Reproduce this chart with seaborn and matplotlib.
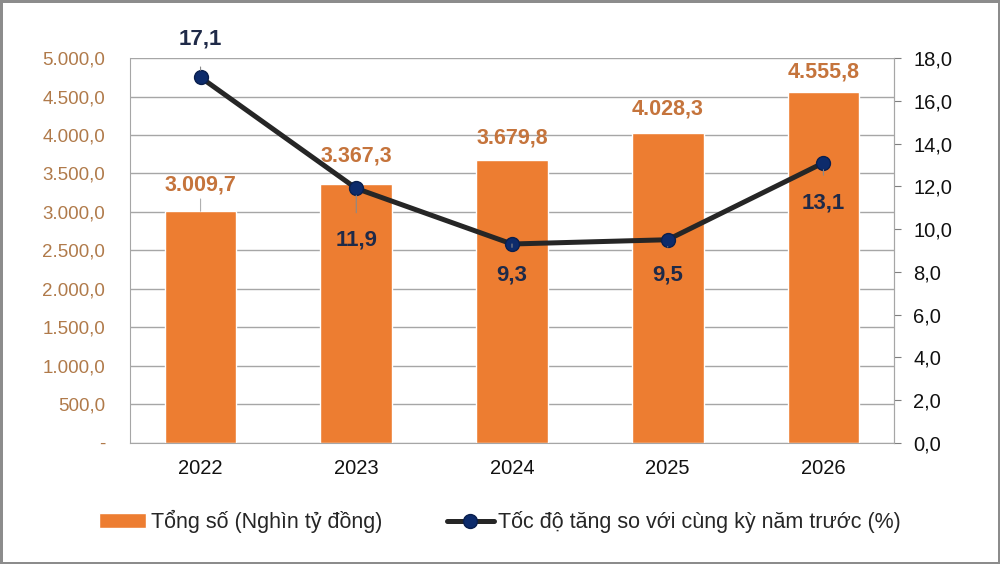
import numpy as np
import matplotlib.pyplot as plt
import pandas as pd
import seaborn as sns

# data
years = ["2022", "2023", "2024", "2025", "2026"]
total = [3009.7, 3367.3, 3679.8, 4028.3, 4555.8]
growth = [17.1, 11.9, 9.3, 9.5, 13.1]
bar_name = "Tổng số (Nghìn tỷ đồng)"
line_name = "Tốc độ tăng so với cùng kỳ năm trước (%)"

sns.set_style("white")
plt.rcParams['font.family'] = ['Liberation Sans', 'DejaVu Sans']

df = pd.DataFrame({"year": years, "total": total, "growth": growth})


def vn(v):
    s = f"{v:,.1f}"
    return s.replace(",", "X").replace(".", ",").replace("X", ".")


fig = plt.figure(figsize=(10, 5.64), dpi=100)
fig.patch.set_edgecolor("#8c8c8c")
fig.patch.set_linewidth(2.5)
ax = fig.add_axes([0.13, 0.215, 0.764, 0.682])

sns.barplot(data=df, x="year", y="total", color="#ED7D31", width=0.46,
            saturation=1, ax=ax, label=bar_name, zorder=2)
ax.set_ylim(0, 5000)
ax.set_yticks(np.arange(0, 5001, 500))
ax.set_yticklabels(["-"] + [vn(v) for v in np.arange(500, 5001, 500)])
ax.yaxis.grid(True, color="#a6a6a6", linewidth=1)
ax.set_axisbelow(True)
ax.set_xlabel("")
ax.set_ylabel("")
ax.tick_params(axis="y", colors="#b07a4a", labelsize=13.5, length=0, pad=18)
ax.tick_params(axis="x", labelsize=14.5, length=0, pad=12, colors="#111111")
ax.spines["top"].set_visible(False)
for s in ["left", "bottom", "right"]:
    ax.spines[s].set_color("#a6a6a6")

bar_off = [26, 28, 22, 24, 20]
for i, v in enumerate(total):
    ax.annotate(vn(v), (i, v), xytext=(0, bar_off[i]), textcoords="offset pixels",
                ha="center", va="center", fontsize=15.5, fontweight="bold",
                color="#c5743c",
                arrowprops=dict(arrowstyle="-", color="#b0b0b0", lw=0.8,
                                shrinkA=10, shrinkB=0) if i == 0 else None)

ax2 = ax.twinx()
ax2.plot(range(len(years)), growth, color="#262626", linewidth=3.6,
         marker="o", markersize=10, markerfacecolor="#0d2b6b",
         markeredgecolor="#0a1f4d", label=line_name, zorder=3)
ax2.set_ylim(0, 18)
ax2.set_yticks(np.arange(0, 18.1, 2))
ax2.set_yticklabels([vn(v) for v in np.arange(0, 18.1, 2)])
ax2.tick_params(axis="y", labelsize=14.5, length=5, color="#7f7f7f",
                labelcolor="#111111", direction="out", pad=9)
for s in ["top", "left", "bottom"]:
    ax2.spines[s].set_visible(False)
ax2.spines["right"].set_color("#a6a6a6")

line_off = [38, -52, -31, -35, -40]
for i, v in enumerate(growth):
    ax2.annotate(vn(v), (i, v), xytext=(0, line_off[i]), textcoords="offset pixels",
                 ha="center", va="center", fontsize=16, fontweight="bold",
                 color="#1f2a48",
                 arrowprops=dict(arrowstyle="-", color="#8a8a8a", lw=0.8,
                                 shrinkA=10, shrinkB=5))

h1, l1 = ax.get_legend_handles_labels()
h2, l2 = ax2.get_legend_handles_labels()
if ax.get_legend():
    ax.get_legend().remove()
fig.legend(h1 + h2, l1 + l2, loc="center", bbox_to_anchor=(0.5, 0.075),
           ncol=2, frameon=False, fontsize=15.5, handlelength=2.2,
           handletextpad=0.2, columnspacing=3.0)

fig.savefig("out.png", dpi=100, edgecolor=fig.get_edgecolor())
